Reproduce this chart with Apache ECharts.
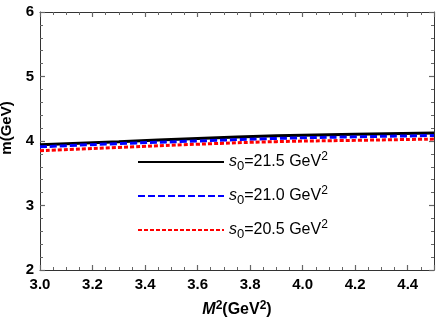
<!DOCTYPE html>
<html>
<head>
<meta charset="utf-8">
<script src="https://cdn.jsdelivr.net/npm/echarts@6/dist/echarts.min.js"></script>
<style>
  html, body { margin: 0; padding: 0; background: #fff; }
  #chart { width: 436px; height: 327px; }
</style>
</head>
<body>
<div id="chart"></div>
<script>
// M^2 values (GeV^2) where the curves were read
const m2 = [3.0, 3.3, 3.6, 3.9, 4.2, 4.5]
// m (GeV) for each threshold s0
const s0_215 = [3.94, 3.99, 4.04, 4.08, 4.105, 4.125]
const s0_210 = [3.91, 3.96, 4.00, 4.04, 4.065, 4.085]
const s0_205 = [3.85, 3.90, 3.95, 3.99, 4.01, 4.03]
const s0Labels = ['21.5', '21.0', '20.5']

const FONT = 'Liberation Sans'

function pairs(ys) {
  return m2.map((x, i) => [x, ys[i]])
}

// legend text with italic s, subscript 0 and superscript 2
const legendRich = {
  s: { fontFamily: FONT, fontSize: 16, fontStyle: 'italic', lineHeight: 22, color: '#000' },
  sub: { fontFamily: FONT, fontSize: 13, lineHeight: 16, verticalAlign: 'bottom', color: '#000' },
  t: { fontFamily: FONT, fontSize: 16, lineHeight: 22, color: '#000' },
  sup: { fontFamily: FONT, fontSize: 12, lineHeight: 8, verticalAlign: 'top', color: '#000' },
}

const nameRich = {
  m: { fontFamily: FONT, fontSize: 16, fontWeight: 'bold', fontStyle: 'italic', lineHeight: 20, color: '#000' },
  t: { fontFamily: FONT, fontSize: 16, fontWeight: 'bold', lineHeight: 20, color: '#000' },
  sup: { fontFamily: FONT, fontSize: 12, fontWeight: 'bold', lineHeight: 8, verticalAlign: 'top', color: '#000' },
}

function is02(v) {
  return Math.abs(v * 5 - Math.round(v * 5)) < 1e-6
}

// x axis with all the small 0.05 ticks (labels only every 0.2)
function xMinorAxis(pos, labels) {
  return {
    type: 'value', position: pos, min: 3, max: 4.5, interval: 0.05,
    axisLine: { show: true, onZero: false, lineStyle: { color: '#333', width: 1 } },
    axisTick: { show: true, inside: true, length: 3, lineStyle: { color: '#666' } },
    axisLabel: {
      show: labels, interval: 0, margin: 7, showMaxLabel: false,
      fontFamily: FONT, fontSize: 15, fontWeight: 'bold', color: '#000',
      formatter: v => is02(v) ? v.toFixed(1) : ''
    },
    splitLine: { show: false },
  }
}
// overlay x axis carrying only the longer 0.2 ticks
function xMajorAxis(pos) {
  return {
    type: 'value', position: pos, min: 3, max: 4.5, interval: 0.2,
    axisLine: { show: false },
    axisTick: { show: true, inside: true, length: 5, lineStyle: { color: '#666', width: 1.2 } },
    axisLabel: { show: false },
    splitLine: { show: false },
  }
}
function yAxisOf(pos, labels) {
  return {
    type: 'value', position: pos, min: 2, max: 6, interval: 1,
    axisLine: { show: true, onZero: false, lineStyle: { color: '#333', width: 1 } },
    axisTick: { show: true, inside: true, length: 5, lineStyle: { color: '#666', width: 1.2 } },
    minorTick: { show: true, splitNumber: 5, length: 3, lineStyle: { color: '#666' } },
    axisLabel: { show: labels, margin: 6, fontFamily: FONT, fontSize: 15, fontWeight: 'bold', color: '#000' },
    splitLine: { show: false },
  }
}

const xMain = xMinorAxis('bottom', true)
xMain.name = '{m|M}{sup|2}{t|(GeV}{sup|2}{t|)}'
xMain.nameLocation = 'middle'
xMain.nameGap = 30
xMain.nameTextStyle = { rich: nameRich }

const yMain = yAxisOf('left', true)
yMain.name = 'm(GeV)'
yMain.nameLocation = 'middle'
yMain.nameGap = 26
yMain.nameTextStyle = { fontFamily: FONT, fontSize: 15, fontWeight: 'bold', color: '#000', padding: [0, 0, 0, 26] }

const option = {
  animation: false,
  grid: { left: 40, right: 2, top: 12, bottom: 57, containLabel: false, outerBoundsMode: 'none' },
  xAxis: [xMain, xMajorAxis('bottom'), xMinorAxis('top', false), xMajorAxis('top')],
  yAxis: [yMain, yAxisOf('right', false)],
  legend: {
    orient: 'vertical', left: 137, top: 151, padding: 0,
    itemWidth: 86, itemHeight: 14, itemGap: 12,
    itemStyle: { opacity: 0 },
    data: s0Labels.map(s => 's=' + s),
    formatter: name => '{s|s}{sub|0}{t|=' + name.slice(2) + ' GeV}{sup|2}',
    textStyle: { rich: legendRich },
  },
  series: [
    {
      name: 's=' + s0Labels[0], type: 'line', smooth: true, symbol: 'none',
      lineStyle: { color: '#000', width: 3, type: 'solid' },
      itemStyle: { color: '#000' },
      data: pairs(s0_215),
    },
    {
      name: 's=' + s0Labels[1], type: 'line', smooth: true, symbol: 'none',
      lineStyle: { color: '#0000ff', width: 3, type: [7, 3] },
      itemStyle: { color: '#0000ff' },
      data: pairs(s0_210),
    },
    {
      name: 's=' + s0Labels[2], type: 'line', smooth: true, symbol: 'none',
      lineStyle: { color: '#ff0000', width: 3, type: [4, 2] },
      itemStyle: { color: '#ff0000' },
      data: pairs(s0_205),
    },
  ],
}

const chart = echarts.init(document.getElementById('chart'))
chart.setOption(option)
</script>
</body>
</html>
